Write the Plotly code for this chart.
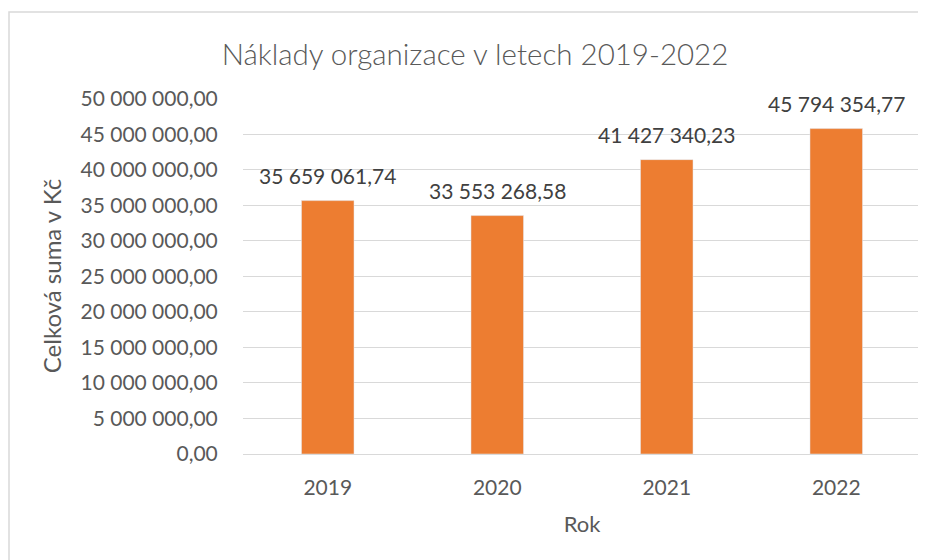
import plotly.graph_objects as go

years = ["2019", "2020", "2021", "2022"]
values = [35659061.74, 33553268.58, 41427340.23, 45794354.77]
value_labels = ["35 659 061,74", "33 553 268,58", "41 427 340,23", "45 794 354,77"]
tick_vals = [0, 5e6, 10e6, 15e6, 20e6, 25e6, 30e6, 35e6, 40e6, 45e6, 50e6]
tick_labels = ["0,00", "5 000 000,00", "10 000 000,00", "15 000 000,00", "20 000 000,00",
               "25 000 000,00", "30 000 000,00", "35 000 000,00", "40 000 000,00",
               "45 000 000,00", "50 000 000,00"]

OFF = 8  # page body margin
W, H = 926 - OFF, 560 - OFF
ml, mr = 243 - OFF, 5
mt = 98 - OFF
mb = H - (454 - OFF)
FONT = "Lato"
GRID = "#D9D9D9"

fig = go.Figure(go.Bar(x=years, y=values, marker_color="#ED7D31", width=0.31,
                       hoverinfo="skip"))

# data labels (category index positions on the category axis)
for i, (yv, t) in enumerate(zip(values, value_labels)):
    fig.add_annotation(x=i, xref="x", y=yv, yref="y", text=t, showarrow=False,
                       yanchor="bottom", yshift=11,
                       font=dict(family=FONT, size=21, color="#404040"))

pw = W - ml - mr
ph = H - mt - mb
fig.add_shape(type="rect", xref="paper", yref="paper",
              x0=(9 - OFF - ml) / pw, x1=(W + 10 - ml) / pw,
              y0=-(mb + 10) / ph, y1=(H - mb - (12 - OFF)) / ph,
              line=dict(color=GRID, width=1.5), fillcolor="rgba(0,0,0,0)", layer="below")

fig.update_layout(
    width=W, height=H,
    margin=dict(l=ml, r=mr, t=mt, b=mb, autoexpand=False),
    paper_bgcolor="white", plot_bgcolor="white",
    showlegend=False,
    title=dict(text="Náklady organizace v letech 2019-2022", x=(475 - OFF) / W, xanchor="center",
               y=1 - (55 - OFF) / H, yanchor="middle",
               font=dict(family=FONT, size=29.5, color="#595959", weight=300)),
    xaxis=dict(type="category", range=[-0.5, len(years) - 0.5], showgrid=False, showline=False,
               ticks="outside", ticklen=15, tickcolor="rgba(0,0,0,0)", automargin=False,
               tickfont=dict(family=FONT, size=21, color="#595959"),
               title=dict(text="Rok", font=dict(family=FONT, size=22, color="#595959"), standoff=18)),
    yaxis=dict(range=[0, 50.1e6], tickvals=tick_vals, ticktext=tick_labels, automargin=False,
               showgrid=True, gridcolor=GRID, gridwidth=1, zeroline=True,
               zerolinecolor=GRID, zerolinewidth=1, showline=False,
               ticks="outside", ticklen=20, tickcolor="rgba(0,0,0,0)",
               tickfont=dict(family=FONT, size=21, color="#595959"),
               title=dict(text="Celková suma v Kč", font=dict(family=FONT, size=24, color="#595959"), standoff=12)),
)

fig.write_html("out.html")
